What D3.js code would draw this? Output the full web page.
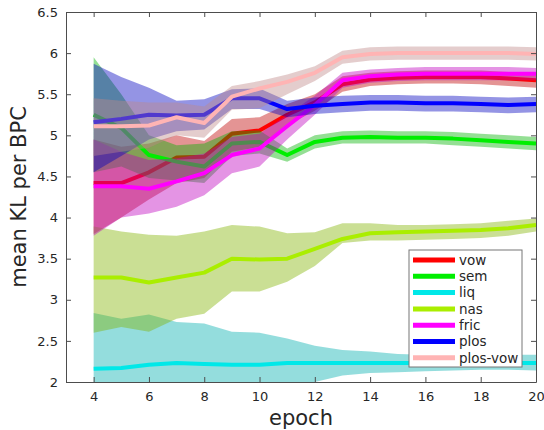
<!DOCTYPE html>
<html>
<head>
<meta charset="utf-8">
<script src="https://cdn.jsdelivr.net/npm/d3@7"></script>
<style>
  body { margin: 0; background: #fff; }
  text { font-family: "DejaVu Sans", sans-serif; fill: #262626; }
</style>
</head>
<body>
<div id="visual"></div>
<script>
// epochs on the x axis
const epochs = [4, 5, 6, 7, 8, 9, 10, 11, 12, 13, 14, 15, 16, 17, 18, 19, 20];
const seriesNames = ["vow", "sem", "liq", "nas", "fric", "plos", "plos-vow"];
const seriesColors = ["#ff0000", "#00ee00", "#00e8e8", "#aaee00", "#ff00ff", "#0000ff", "#ffb4b4"];

// mean KL per series
const vowMean  = [4.42, 4.42, 4.55, 4.73, 4.74, 5.02, 5.06, 5.25, 5.40, 5.62, 5.68, 5.70, 5.71, 5.71, 5.71, 5.69, 5.67];
const vowLow   = [3.80, 4.00, 4.22, 4.42, 4.48, 4.80, 4.86, 5.12, 5.30, 5.53, 5.60, 5.62, 5.63, 5.63, 5.62, 5.60, 5.58];
const vowHigh  = [4.95, 4.86, 4.90, 5.00, 4.93, 5.20, 5.22, 5.38, 5.50, 5.72, 5.76, 5.78, 5.79, 5.79, 5.79, 5.77, 5.76];

const semMean  = [5.25, 5.09, 4.76, 4.68, 4.62, 4.90, 4.92, 4.76, 4.92, 4.97, 4.98, 4.97, 4.97, 4.96, 4.94, 4.92, 4.90];
const semLow   = [4.55, 4.62, 4.48, 4.45, 4.42, 4.75, 4.78, 4.68, 4.84, 4.90, 4.90, 4.90, 4.90, 4.88, 4.86, 4.84, 4.82];
const semHigh  = [5.95, 5.50, 5.00, 4.88, 4.90, 5.05, 5.06, 4.84, 5.00, 5.05, 5.06, 5.05, 5.05, 5.04, 5.02, 5.00, 4.98];

const liqMean  = [2.16, 2.17, 2.21, 2.23, 2.22, 2.21, 2.21, 2.23, 2.23, 2.23, 2.23, 2.23, 2.23, 2.23, 2.23, 2.23, 2.23];
const liqLow   = [1.60, 1.65, 1.70, 1.75, 1.80, 1.85, 1.90, 1.95, 2.00, 2.08, 2.11, 2.12, 2.13, 2.14, 2.15, 2.15, 2.14];
const liqHigh  = [2.84, 2.77, 2.82, 2.73, 2.71, 2.61, 2.60, 2.53, 2.44, 2.39, 2.37, 2.34, 2.33, 2.33, 2.33, 2.33, 2.33];

const nasMean  = [3.27, 3.27, 3.21, 3.27, 3.33, 3.50, 3.49, 3.50, 3.62, 3.74, 3.81, 3.82, 3.83, 3.84, 3.85, 3.87, 3.91];
const nasLow   = [2.60, 2.67, 2.61, 2.77, 2.83, 3.10, 3.10, 3.22, 3.41, 3.69, 3.72, 3.72, 3.73, 3.74, 3.75, 3.78, 3.83];
const nasHigh  = [3.89, 3.83, 3.79, 3.78, 3.83, 3.91, 3.89, 3.81, 3.82, 3.93, 3.93, 3.91, 3.91, 3.92, 3.93, 3.96, 3.99];

const fricMean = [4.38, 4.38, 4.35, 4.44, 4.54, 4.76, 4.84, 5.11, 5.37, 5.67, 5.72, 5.74, 5.75, 5.75, 5.75, 5.75, 5.75];
const fricLow  = [3.78, 4.00, 4.05, 4.13, 4.27, 4.54, 4.62, 4.95, 5.25, 5.58, 5.64, 5.66, 5.67, 5.67, 5.67, 5.67, 5.67];
const fricHigh = [4.95, 4.80, 4.70, 4.72, 4.78, 4.98, 5.02, 5.25, 5.48, 5.76, 5.80, 5.82, 5.83, 5.83, 5.83, 5.83, 5.82];

const plosMean = [5.16, 5.20, 5.25, 5.24, 5.25, 5.45, 5.45, 5.32, 5.36, 5.38, 5.40, 5.40, 5.39, 5.39, 5.38, 5.37, 5.38];
const plosLow  = [4.55, 4.75, 4.95, 5.05, 5.07, 5.32, 5.32, 5.22, 5.26, 5.28, 5.30, 5.30, 5.29, 5.29, 5.28, 5.27, 5.28];
const plosHigh = [5.87, 5.71, 5.58, 5.42, 5.44, 5.56, 5.57, 5.42, 5.46, 5.48, 5.49, 5.49, 5.48, 5.48, 5.47, 5.46, 5.47];

const pvMean   = [5.11, 5.11, 5.12, 5.22, 5.15, 5.47, 5.57, 5.65, 5.76, 5.95, 5.99, 6.00, 6.00, 6.00, 6.00, 6.00, 5.99];
const pvLow    = [4.75, 4.80, 4.85, 5.00, 4.97, 5.31, 5.33, 5.50, 5.66, 5.87, 5.91, 5.92, 5.92, 5.92, 5.92, 5.92, 5.91];
const pvHigh   = [5.45, 5.42, 5.40, 5.40, 5.35, 5.60, 5.66, 5.74, 5.84, 6.03, 6.07, 6.08, 6.08, 6.08, 6.08, 6.08, 6.07];

const xTicks = [4, 6, 8, 10, 12, 14, 16, 18, 20];
const yTicks = [2, 2.5, 3, 3.5, 4, 4.5, 5, 5.5, 6, 6.5];

const means = [vowMean, semMean, liqMean, nasMean, fricMean, plosMean, pvMean];
const lows = [vowLow, semLow, liqLow, nasLow, fricLow, plosLow, pvLow];
const highs = [vowHigh, semHigh, liqHigh, nasHigh, fricHigh, plosHigh, pvHigh];

const W = 544, H = 430;
const margin = { top: 12, right: 8, bottom: 48, left: 66 };
const width = W - margin.left - margin.right;
const height = H - margin.top - margin.bottom;

const svg = d3.select("#visual").append("svg")
    .attr("width", W)
    .attr("height", H);

const g = svg.append("g")
    .attr("transform", "translate(" + margin.left + "," + margin.top + ")");

const x = d3.scaleLinear().domain([3, 20]).range([0, width]);
const y = d3.scaleLinear().domain([2, 6.5]).range([height, 0]);

g.append("clipPath").attr("id", "plotclip")
    .append("rect").attr("width", width).attr("height", height);

const plot = g.append("g").attr("clip-path", "url(#plotclip)");

const area = d3.area()
    .x(d => x(d.e))
    .y0(d => y(d.lo))
    .y1(d => y(d.hi));

const line = d3.line()
    .x(d => x(d.e))
    .y(d => y(d.m));

// each series: shaded band, then its mean line
seriesNames.forEach((name, i) => {
    const rows = epochs.map((e, k) => ({ e: e, m: means[i][k], lo: lows[i][k], hi: highs[i][k] }));
    const c = d3.rgb(seriesColors[i]);
    const bandColor = d3.rgb(c.r * 0.75, c.g * 0.75, c.b * 0.75);

    plot.append("path")
        .datum(rows)
        .attr("fill", bandColor)
        .attr("fill-opacity", 0.42)
        .attr("d", area);

    plot.append("path")
        .datum(rows)
        .attr("fill", "none")
        .attr("stroke", seriesColors[i])
        .attr("stroke-width", 4)
        .attr("stroke-linejoin", "round")
        .attr("d", line);
});

// axes, MATLAB style box with inward ticks
const axisColor = "#4d4d4d";

const xAxis = g.append("g")
    .attr("transform", "translate(0," + height + ")")
    .call(d3.axisBottom(x).tickValues(xTicks).tickSizeInner(-5).tickSizeOuter(0).tickPadding(10));
const yAxis = g.append("g")
    .call(d3.axisLeft(y).tickValues(yTicks).tickSizeInner(-5).tickSizeOuter(0).tickPadding(8).tickFormat(d3.format("")));
const xTop = g.append("g")
    .call(d3.axisTop(x).tickValues(xTicks).tickSizeInner(-5).tickSizeOuter(0).tickFormat(""));
const yRight = g.append("g")
    .attr("transform", "translate(" + width + ",0)")
    .call(d3.axisRight(y).tickValues(yTicks).tickSizeInner(-5).tickSizeOuter(0).tickFormat(""));

[xAxis, yAxis, xTop, yRight].forEach(a => {
    a.select(".domain").attr("stroke", axisColor);
    a.selectAll(".tick line").attr("stroke", axisColor);
    a.selectAll(".tick text")
        .attr("fill", "#262626")
        .style("font-size", "13px")
        .style("font-family", "DejaVu Sans, sans-serif");
});

// axis titles
g.append("text")
    .attr("x", width / 2)
    .attr("y", height + 43)
    .attr("text-anchor", "middle")
    .style("font-size", "21px")
    .text("epoch");

g.append("text")
    .attr("transform", "rotate(-90)")
    .attr("x", -height / 2)
    .attr("y", -40)
    .attr("text-anchor", "middle")
    .style("font-size", "21px")
    .text("mean KL per BPC");

// legend
const legend = g.append("g")
    .attr("transform", "translate(" + (409 - margin.left) + "," + (250 - margin.top) + ")");

legend.append("rect")
    .attr("width", 113)
    .attr("height", 117)
    .attr("fill", "#fff")
    .attr("stroke", "#777")
    .attr("stroke-width", 1);

seriesNames.forEach((name, i) => {
    const ly = 10 + i * 16.3;
    legend.append("line")
        .attr("x1", 4).attr("x2", 46)
        .attr("y1", ly).attr("y2", ly)
        .attr("stroke", seriesColors[i])
        .attr("stroke-width", 5);
    legend.append("text")
        .attr("x", 50)
        .attr("y", ly)
        .attr("dy", "0.35em")
        .style("font-size", "13.5px")
        .text(name);
});
</script>
</body>
</html>
